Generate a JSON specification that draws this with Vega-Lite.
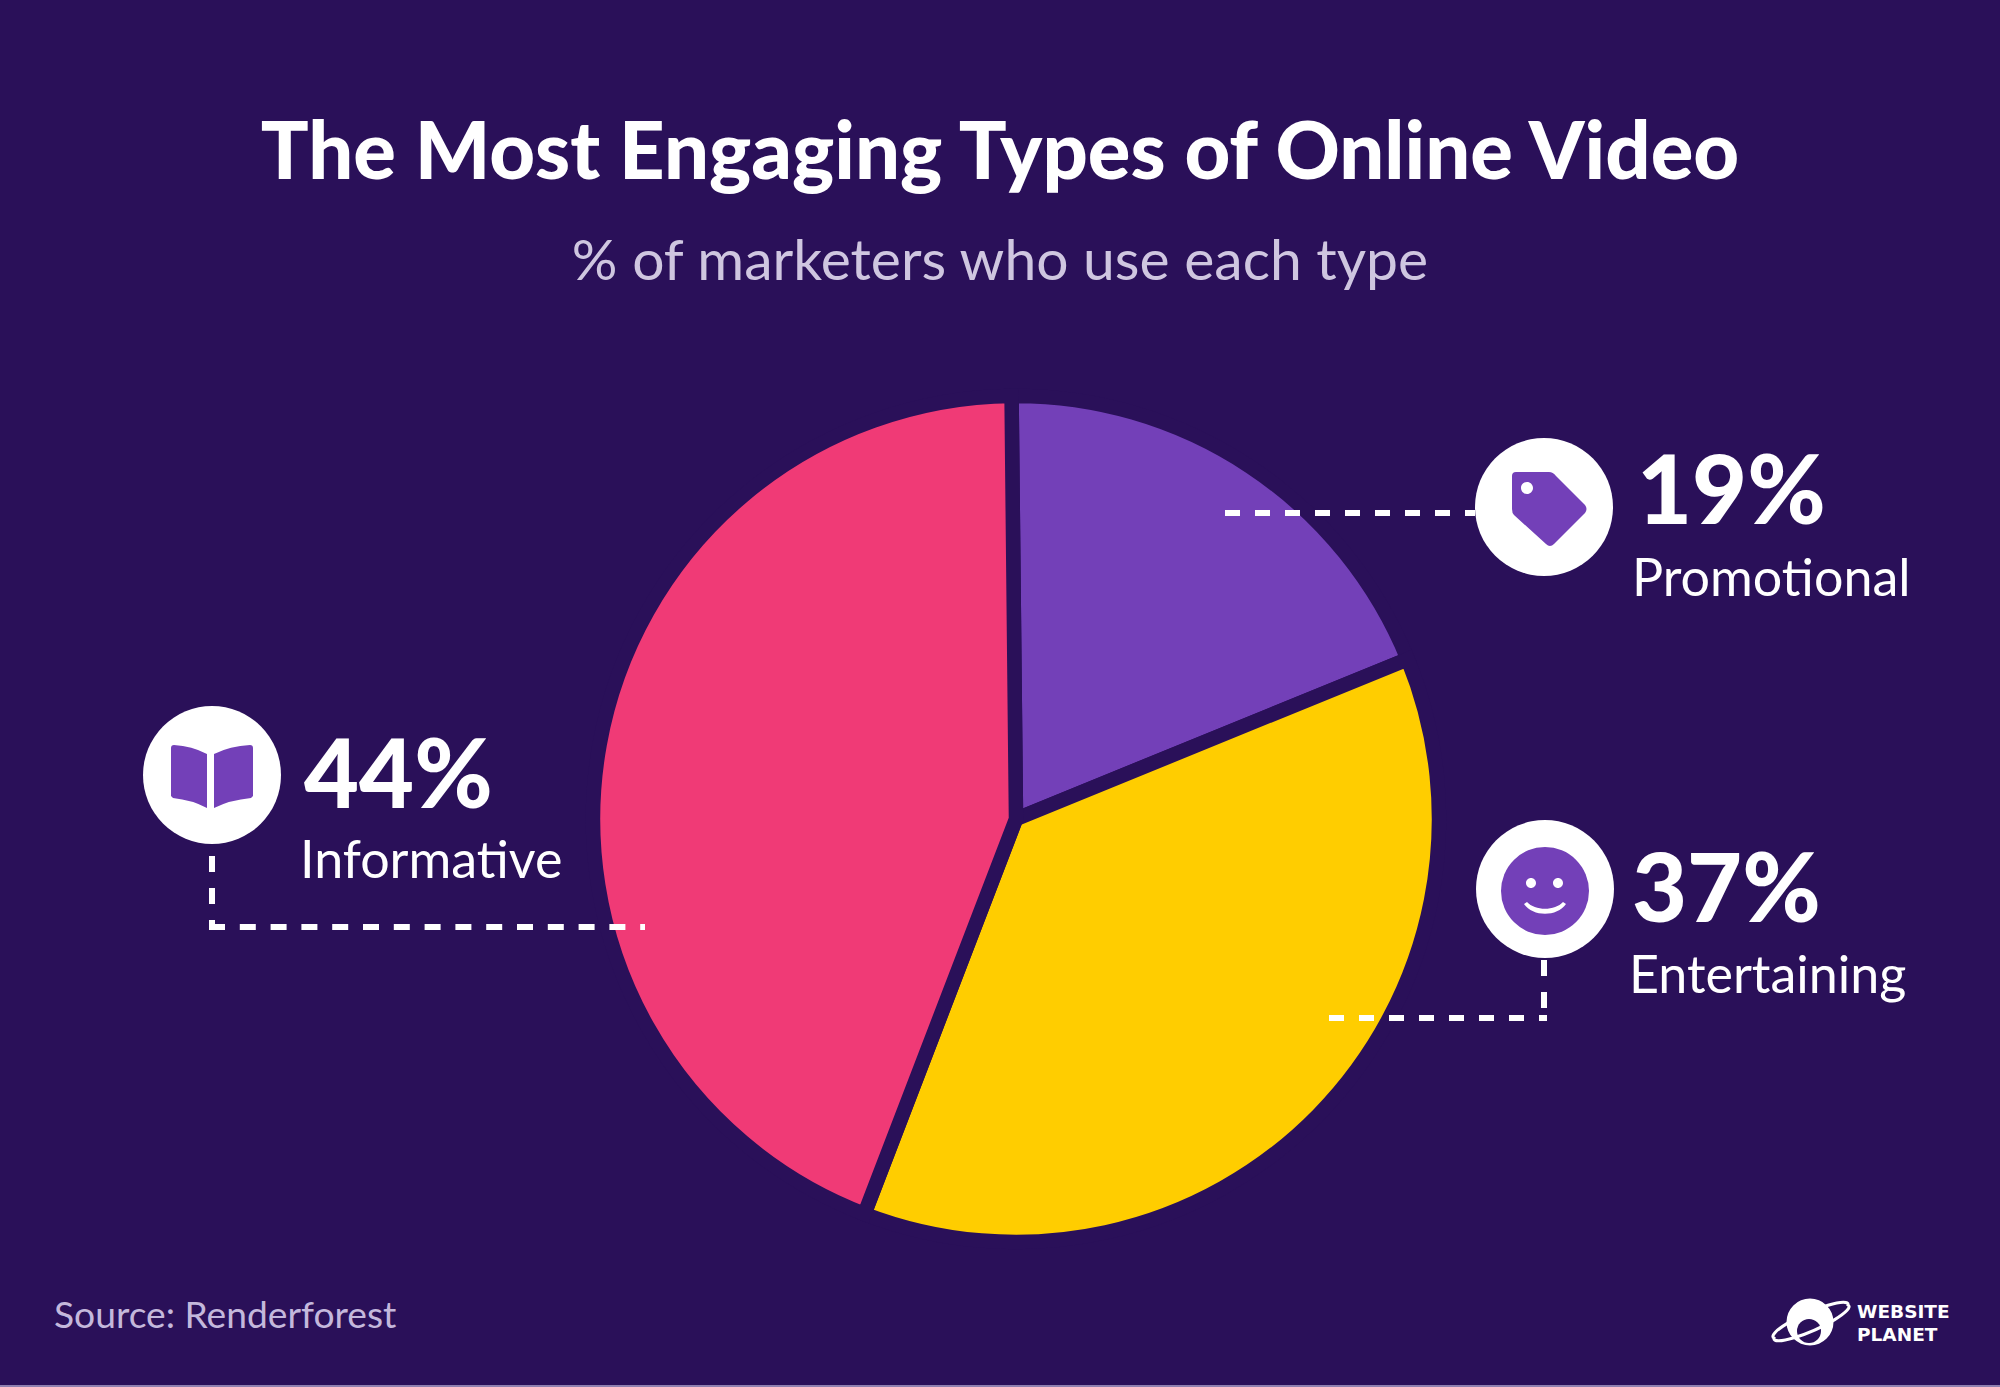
{
"$schema":"https://vega.github.io/schema/vega-lite/v6.json",
"width":2000,"height":1387,"autosize":"none","padding":0,"background":"#2a1059",
"config":{"view":{"stroke":null},"text":{"font":"Lato"}},
"title":{"text":"The Most Engaging Types of Online Video","subtitle":"% of marketers who use each type","anchor":"middle","frame":"group","font":"Lato","fontSize":79.5,"fontWeight":900,"color":"#ffffff","subtitleFont":"Lato","subtitleFontSize":57,"subtitleFontWeight":400,"subtitleColor":"#cfc6e0","subtitlePadding":40,"offset":-292},
"data":{"values":[
{"type":"Promotional","share":0.19,"rank":1},
{"type":"Entertaining","share":0.37,"rank":2},
{"type":"Informative","share":0.44,"rank":3}]},
"layer":[
{"mark":{"type":"arc","x":1016,"y":819,"outerRadius":423,"stroke":"#2a1059","strokeWidth":14.5,"strokeJoin":"miter"},
 "encoding":{"theta":{"field":"share","type":"quantitative","stack":true,"scale":{"range":[-0.0105,6.2727]}},"order":{"field":"rank","type":"ordinal"},
 "color":{"field":"type","type":"nominal","legend":null,"scale":{"domain":["Promotional","Entertaining","Informative"],"range":["#7340b8","#ffcd00","#f03a76"]}}}},
{"transform":[{"filter":"datum.type==='Promotional'"}],"layer":[
 {"mark":{"type":"rule","stroke":"#ffffff","strokeWidth":6,"strokeDash":[15,15]},"encoding":{"x":{"value":1225},"x2":{"value":1475},"y":{"value":513},"y2":{"value":513}}},
 {"mark":{"type":"point","shape":"circle","filled":true,"x":1544,"y":507,"size":19044,"fill":"#ffffff","opacity":1}},
 {"mark":{"type":"point","shape":"M-28 -35 L5 -35 Q9 -35 12 -31 L41 -2 Q44 2 41 6 L10 37 Q6 41 2 37 L-30 8 Q-32 6 -32 2 L-32 -31 Q-32 -35 -28 -35 Z M-17 -25 A6 6 0 1 0 -17 -13 A6 6 0 1 0 -17 -25 Z","filled":true,"x":1544,"y":507,"size":4,"fill":"#7340b8","opacity":1,"strokeWidth":0}},
 {"mark":{"type":"text","x":1637,"y":524,"align":"left","baseline":"alphabetic","fontSize":95,"fontWeight":900,"fill":"#ffffff"},"encoding":{"text":{"field":"share","format":".0%"}}},
 {"mark":{"type":"text","x":1632,"y":596,"align":"left","baseline":"alphabetic","fontSize":52,"fill":"#ffffff"},"encoding":{"text":{"field":"type"}}}
]},
{"transform":[{"filter":"datum.type==='Informative'"}],"layer":[
 {"mark":{"type":"rule","stroke":"#ffffff","strokeWidth":6,"strokeDash":[16,16]},"encoding":{"x":{"value":212},"x2":{"value":212},"y":{"value":856},"y2":{"value":930}}},
 {"mark":{"type":"rule","stroke":"#ffffff","strokeWidth":6,"strokeDash":[16,14.8]},"encoding":{"x":{"value":209},"x2":{"value":645},"y":{"value":927},"y2":{"value":927}}},
 {"mark":{"type":"point","shape":"circle","filled":true,"x":212,"y":775,"size":19044,"fill":"#ffffff","opacity":1}},
 {"mark":{"type":"point","shape":"M-41 -27 Q-41 -30 -38 -30 Q-20 -29 -5 -21 L-5 33 Q-20 25 -39 23 L-41 21 Z M2 -21 Q18 -29 38 -30 Q41 -30 41 -27 L41 21 L39 23 Q18 25 2 33 Z","filled":true,"x":212,"y":775,"size":4,"fill":"#7340b8","opacity":1,"strokeWidth":0}},
 {"mark":{"type":"text","x":304,"y":808,"align":"left","baseline":"alphabetic","fontSize":95,"fontWeight":900,"fill":"#ffffff"},"encoding":{"text":{"field":"share","format":".0%"}}},
 {"mark":{"type":"text","x":300,"y":878,"align":"left","baseline":"alphabetic","fontSize":52,"fill":"#ffffff"},"encoding":{"text":{"field":"type"}}}
]},
{"transform":[{"filter":"datum.type==='Entertaining'"}],"layer":[
 {"mark":{"type":"rule","stroke":"#ffffff","strokeWidth":6,"strokeDash":[16,16]},"encoding":{"x":{"value":1544},"x2":{"value":1544},"y":{"value":960},"y2":{"value":1021}}},
 {"mark":{"type":"rule","stroke":"#ffffff","strokeWidth":6,"strokeDash":[15,15]},"encoding":{"x":{"value":1329},"x2":{"value":1547},"y":{"value":1018},"y2":{"value":1018}}},
 {"mark":{"type":"point","shape":"circle","filled":true,"x":1545,"y":889,"size":19044,"fill":"#ffffff","opacity":1}},
 {"mark":{"type":"point","shape":"circle","filled":true,"x":1545,"y":891,"size":7744,"fill":"#7340b8","opacity":1}},
 {"mark":{"type":"point","shape":"M-19 -8 A5 5 0 1 0 -9 -8 A5 5 0 1 0 -19 -8 Z M8 -8 A5 5 0 1 0 18 -8 A5 5 0 1 0 8 -8 Z M-21 13 C-12 26 12 26 21 13 L18 11 C10 20 -10 20 -18 11 Z","filled":true,"x":1545,"y":891,"size":4,"fill":"#ffffff","opacity":1,"strokeWidth":0}},
 {"mark":{"type":"text","x":1632,"y":922,"align":"left","baseline":"alphabetic","fontSize":95,"fontWeight":900,"fill":"#ffffff"},"encoding":{"text":{"field":"share","format":".0%"}}},
 {"mark":{"type":"text","x":1629,"y":993,"align":"left","baseline":"alphabetic","fontSize":52,"fill":"#ffffff"},"encoding":{"text":{"field":"type"}}}
]},
{"data":{"values":[{"note":"Source: Renderforest"}]},"mark":{"type":"text","x":54,"y":1328,"align":"left","baseline":"alphabetic","fontSize":37.2,"fill":"#c4b8dc"},"encoding":{"text":{"field":"note"}}},
{"data":{"values":[{"brand":"WEBSITE"}]},"mark":{"type":"text","x":1857,"y":1318,"align":"left","baseline":"alphabetic","font":"DejaVu Sans","fontSize":18.5,"fontWeight":"bold","fill":"#ffffff"},"encoding":{"text":{"field":"brand"}}},
{"data":{"values":[{"brand":"PLANET"}]},"mark":{"type":"text","x":1857,"y":1341,"align":"left","baseline":"alphabetic","font":"DejaVu Sans","fontSize":18.5,"fontWeight":"bold","fill":"#ffffff"},"encoding":{"text":{"field":"brand"}}},
{"data":{"values":[{"brand":"logo"}]},"layer":[
 {"mark":{"type":"point","shape":"circle","filled":true,"x":1810,"y":1322,"size":2209,"fill":"#ffffff","opacity":1}},
 {"mark":{"type":"point","shape":"circle","filled":true,"x":1809,"y":1331,"size":576,"fill":"#2a1059","opacity":1}},
 {"mark":{"type":"point","shape":"M-37 16 A41 8 -24 1 0 37 -17 A41 8 -24 1 0 -37 16 Z","filled":false,"x":1811,"y":1322,"size":4,"stroke":"#ffffff","strokeWidth":3,"opacity":1}}
]},
{"data":{"values":[{"edge":"bottom"}]},"mark":{"type":"rule","stroke":"#8f80b0","strokeWidth":2},"encoding":{"x":{"value":0},"x2":{"value":2000},"y":{"value":1386},"y2":{"value":1386}}}
]}
